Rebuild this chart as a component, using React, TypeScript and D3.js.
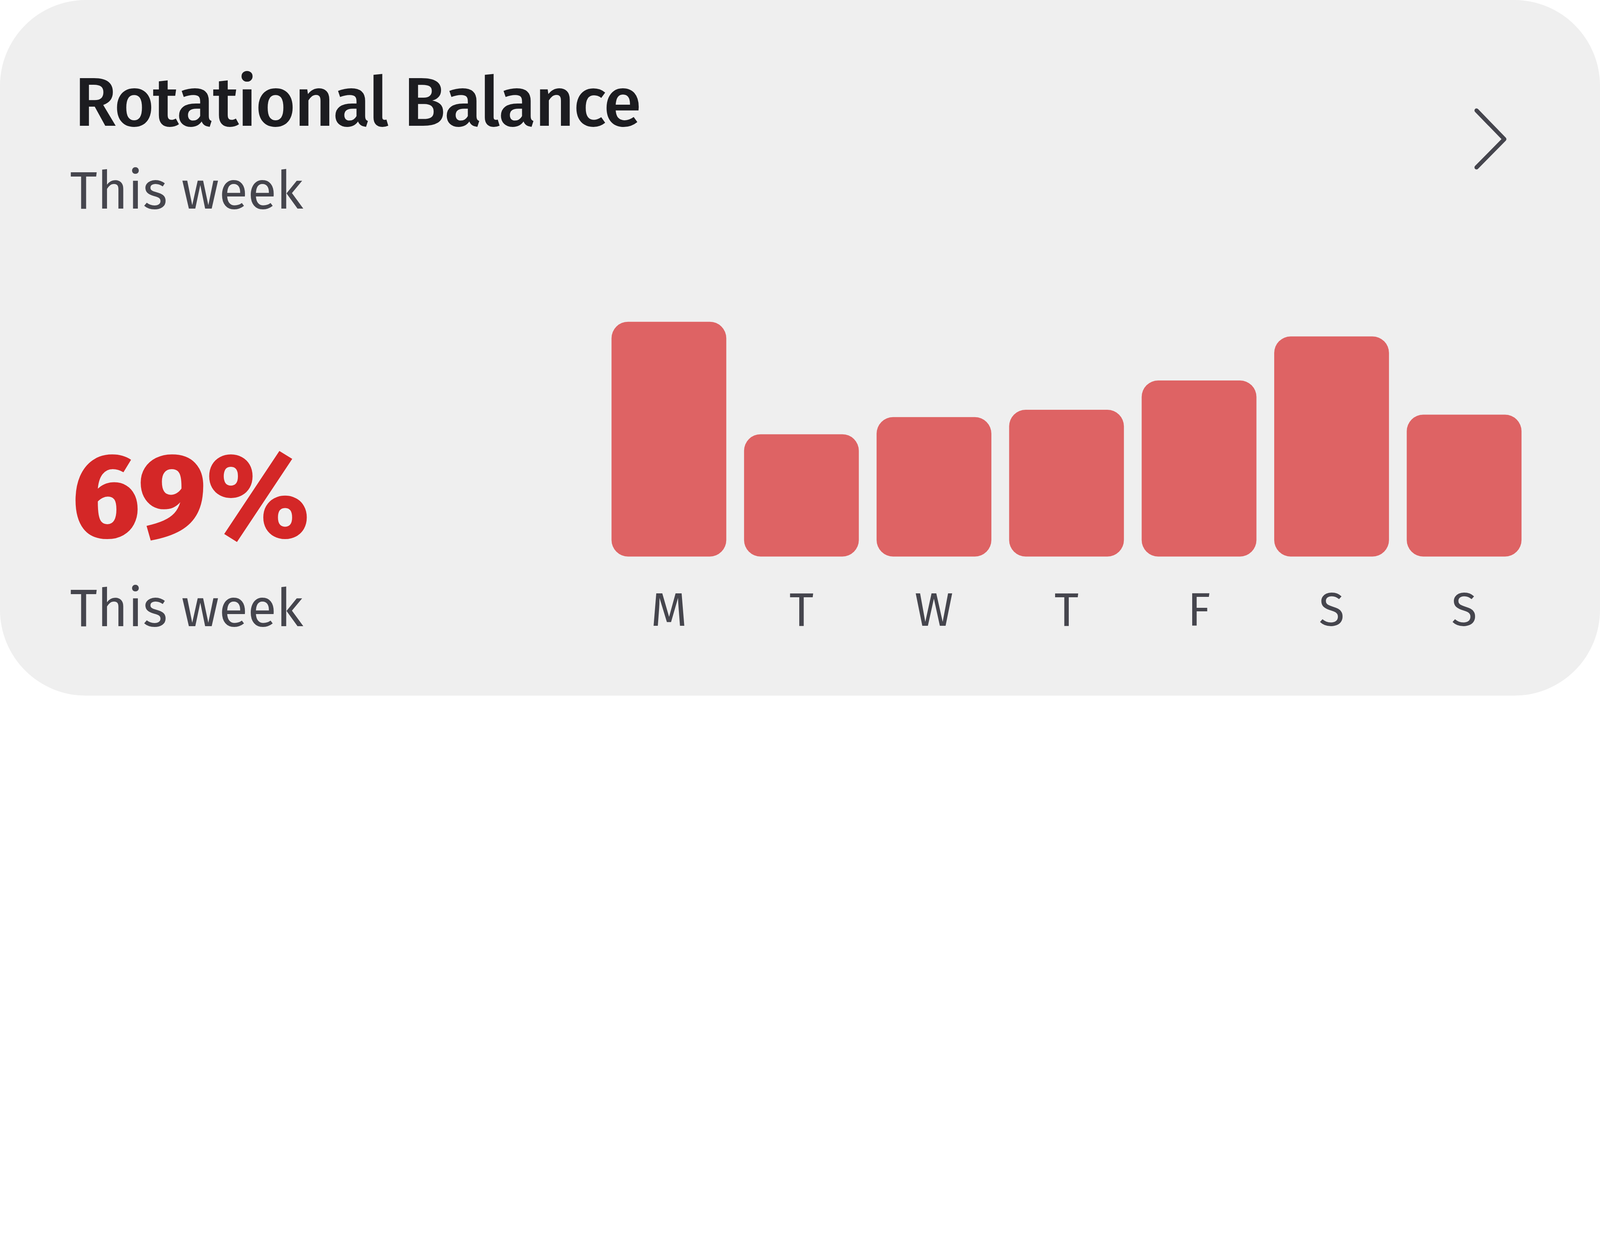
import * as d3 from 'd3';

const days = ['M', 'T', 'W', 'T', 'F', 'S', 'S'];
const balance = [96, 50, 57, 60, 72, 90, 58];
const title = 'Rotational Balance';
const subtitle = 'This week';
const summaryValue = '69%';
const summaryLabel = 'This week';

const W = 7360;
const H = 3200;
const FONT = "'Fira Sans', 'Open Sans', sans-serif";

export default function App() {
  const x = d3
    .scaleBand<number>()
    .domain(d3.range(days.length))
    .range([2813, 6999])
    .paddingInner(0.134)
    .paddingOuter(0);
  const y = d3.scaleLinear().domain([0, 100]).range([2560, 1435]);
  const r = 76;

  // rounded bar on all four corners
  const barPath = (i: number) => {
    const x0 = x(i)!;
    const w = x.bandwidth();
    const top = y(balance[i]);
    const bottom = y(0);
    const p = d3.path();
    p.moveTo(x0 + r, top);
    p.lineTo(x0 + w - r, top);
    p.arcTo(x0 + w, top, x0 + w, top + r, r);
    p.lineTo(x0 + w, bottom - r);
    p.arcTo(x0 + w, bottom, x0 + w - r, bottom, r);
    p.lineTo(x0 + r, bottom);
    p.arcTo(x0, bottom, x0, bottom - r, r);
    p.lineTo(x0, top + r);
    p.arcTo(x0, top, x0 + r, top, r);
    p.closePath();
    return p.toString();
  };

  // the browser window is narrower than the card, so scale it to the viewport width
  return (
    <div style={{ position: 'fixed', left: 0, top: 0, width: '100vw', height: '100vh', background: '#fff' }}>
      <svg viewBox={`0 0 ${W} ${H}`} preserveAspectRatio="xMinYMin meet"
        style={{ display: 'block', width: '100%', height: '100%' }}>
        <rect x={0} y={0} width={W} height={H} rx={395} ry={395} fill="#efefef" />

        <text x={342} y={579} fontFamily={FONT} fontWeight={500} fontSize={316} fill="#1c1c20"
          textLength={2608} lengthAdjust="spacing">
          {title}
        </text>
        <text x={322} y={960} fontFamily={FONT} fontWeight={400} fontSize={242} fill="#45454d">
          {subtitle}
        </text>

        <path d="M6792,508 L6920,640 L6792,770" fill="none" stroke="#45454d" strokeWidth={19}
          strokeLinecap="round" strokeLinejoin="round" />

        <text x={330} y={2470} fontFamily={FONT} fontWeight={800} fontSize={548} fill="#d42727">
          {summaryValue}
        </text>
        <text x={322} y={2880} fontFamily={FONT} fontWeight={400} fontSize={242} fill="#45454d">
          {summaryLabel}
        </text>

        <g>
          {balance.map((_, i) => (
            <path key={i} d={barPath(i)} fill="#de6364" />
          ))}
        </g>
        <g>
          {days.map((d, i) => (
            <text key={i} x={x(i)! + x.bandwidth() / 2} y={2879} textAnchor="middle"
              fontFamily={FONT} fontWeight={400} fontSize={216} fill="#45454d">
              {d}
            </text>
          ))}
        </g>
      </svg>
    </div>
  );
}
